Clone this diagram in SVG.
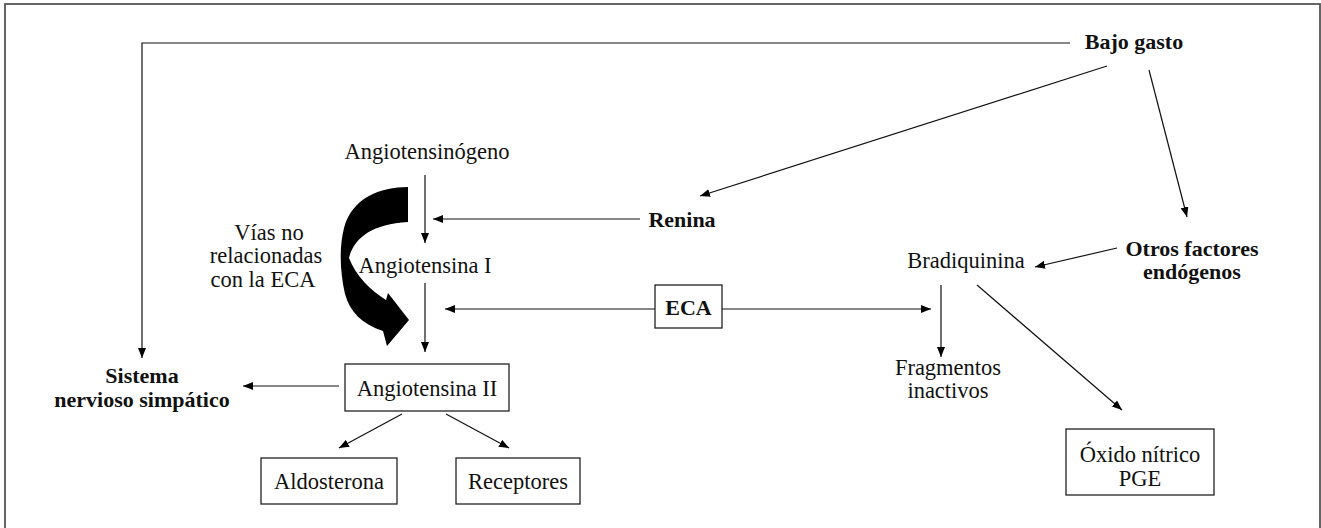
<svg xmlns="http://www.w3.org/2000/svg" width="1321" height="528" viewBox="0 0 1321 528">
  <defs>
    <marker id="ah" viewBox="0 0 10 8" refX="10" refY="4" markerWidth="10" markerHeight="8" markerUnits="userSpaceOnUse" orient="auto">
      <path d="M0,0 L10,4 L0,8 Z" fill="#000"/>
    </marker>
    <style>
      .t { font-family: "Liberation Serif", "Times New Roman", serif; font-size: 22.5px; fill: #111; text-anchor: middle; }
      .b { font-weight: bold; font-size: 22px; }
      .box { fill: #fff; stroke: #222; stroke-width: 1.3; }
      .ar { fill: none; stroke: #111; stroke-width: 1.2; marker-end: url(#ah); }
    </style>
  </defs>
  <rect width="1321" height="528" fill="#fff"/>
  <!-- outer frame -->
  <rect x="5" y="4" width="1315" height="540" fill="none" stroke="#555" stroke-width="1.8"/>

  <!-- connectors -->
  <g id="connectors">
    <polyline class="ar" points="1070,43 142,43 142,358"/>
    <line class="ar" x1="1107" y1="66" x2="700" y2="196"/>
    <line class="ar" x1="1149" y1="70" x2="1187" y2="217"/>
    <line class="ar" x1="425" y1="175" x2="425" y2="243"/>
    <line class="ar" x1="640" y1="219" x2="433" y2="219"/>
    <line class="ar" x1="425" y1="283" x2="425" y2="352"/>
    <line class="ar" x1="655" y1="309" x2="445" y2="309"/>
    <line class="ar" x1="722" y1="309" x2="931" y2="309"/>
    <line class="ar" x1="1117" y1="248" x2="1035" y2="267"/>
    <line class="ar" x1="941" y1="285" x2="941" y2="357"/>
    <line class="ar" x1="977" y1="285" x2="1122" y2="410"/>
    <line class="ar" x1="339" y1="386" x2="243" y2="386"/>
    <line class="ar" x1="402" y1="414" x2="339" y2="448"/>
    <line class="ar" x1="446" y1="414" x2="509" y2="448"/>
    <!-- thick curved arrow: pathways not related to ACE -->
    <path d="M408,187 C380,187 352,198 344,228 C339,248 340,272 345,294 C350,312 362,324 383,331 L387,346 L409,320 L388,293 L386,300 C370,290 356,276 349,258 C354,238 372,224 408,222 Z" fill="#000"/>
  </g>

  <g id="bajo-gasto"><text class="t b" x="1134" y="49">Bajo gasto</text></g>
  <g id="angiotensinogeno"><text class="t" x="427" y="159">Angiotensinógeno</text></g>
  <g id="renina"><text class="t b" x="682" y="227">Renina</text></g>
  <g id="vias">
    <text class="t" x="269" y="240">Vías no</text>
    <text class="t" x="266" y="263">relacionadas</text>
    <text class="t" x="263" y="287">con la ECA</text>
  </g>
  <g id="angiotensina-i"><text class="t" x="425" y="273">Angiotensina I</text></g>
  <g id="eca">
    <rect class="box" x="655" y="285" width="67" height="43"/>
    <text class="t b" x="688.5" y="315">ECA</text>
  </g>
  <g id="bradiquinina"><text class="t" x="966" y="268">Bradiquinina</text></g>
  <g id="otros">
    <text class="t b" x="1192" y="256">Otros factores</text>
    <text class="t b" x="1192" y="279">endógenos</text>
  </g>
  <g id="angiotensina-ii">
    <rect class="box" x="345" y="364" width="164" height="47"/>
    <text class="t" x="427" y="396">Angiotensina II</text>
  </g>
  <g id="sistema">
    <text class="t b" x="142" y="383">Sistema</text>
    <text class="t b" x="142" y="407">nervioso simpático</text>
  </g>
  <g id="fragmentos">
    <text class="t" x="948" y="375">Fragmentos</text>
    <text class="t" x="948" y="398">inactivos</text>
  </g>
  <g id="aldosterona">
    <rect class="box" x="261" y="458" width="136" height="46"/>
    <text class="t" x="329" y="489">Aldosterona</text>
  </g>
  <g id="receptores">
    <rect class="box" x="456" y="458" width="124" height="46"/>
    <text class="t" x="518" y="489">Receptores</text>
  </g>
  <g id="oxido">
    <rect class="box" x="1066" y="429" width="148" height="66"/>
    <text class="t" x="1140" y="462">Óxido nítrico</text>
    <text class="t" x="1140" y="486">PGE</text>
  </g>
</svg>
